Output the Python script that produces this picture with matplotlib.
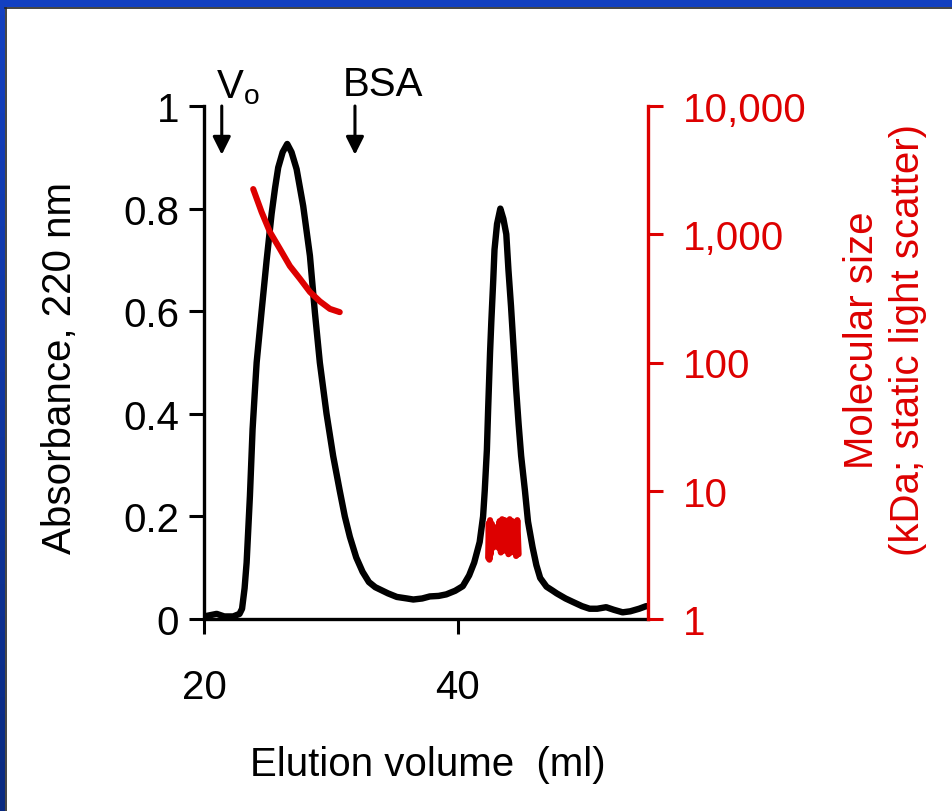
import matplotlib
matplotlib.use("Agg")
import matplotlib.pyplot as plt
import numpy as np

plt.rcParams['font.family'] = ['Liberation Sans', 'DejaVu Sans']
plt.rcParams['mathtext.default'] = 'regular'

# absorbance trace (elution volume ml, A220)
elution = [20.0, 21.0, 21.6, 22.3, 22.8, 23.0, 23.2, 23.36, 23.5, 23.62, 23.83, 24.0,
           24.15, 24.54, 24.94, 25.33, 25.6, 25.85, 26.2, 26.56, 26.9, 27.3, 27.82,
           28.35, 28.74, 29.13, 29.66, 30.18, 30.7, 31.1, 31.5, 32.0, 32.5, 33.0, 33.5,
           34.0, 34.5, 35.2, 36.0, 36.5, 37.2, 37.8, 38.5, 39.1, 39.8, 40.4, 40.9, 41.3,
           41.73, 42.0, 42.13, 42.3, 42.4, 42.55, 42.65, 42.8, 42.9, 43.1, 43.36, 43.6,
           43.83, 44.0, 44.2, 44.4, 44.6, 44.8, 45.0, 45.3, 45.54, 45.9, 46.2, 46.5,
           47.0, 47.5, 47.8, 48.5, 49.1, 49.8, 50.4, 51.0, 51.7, 52.3, 53.0, 53.6,
           54.3, 54.85, 55.0]
absorbance = [0.005, 0.01, 0.005, 0.005, 0.01, 0.02, 0.06, 0.11, 0.18, 0.24, 0.37, 0.44,
              0.50, 0.60, 0.70, 0.79, 0.84, 0.88, 0.91, 0.926, 0.91, 0.877, 0.805,
              0.708, 0.598, 0.50, 0.40, 0.318, 0.25, 0.20, 0.16, 0.12, 0.092, 0.072, 0.062,
              0.056, 0.05, 0.043, 0.04, 0.038, 0.04, 0.044, 0.045, 0.048, 0.055, 0.064, 0.085, 0.11,
              0.15, 0.20, 0.25, 0.33, 0.41, 0.52, 0.58, 0.66, 0.72, 0.77, 0.80, 0.78,
              0.75, 0.68, 0.61, 0.53, 0.45, 0.38, 0.318, 0.25, 0.19, 0.14, 0.105, 0.08,
              0.063, 0.055, 0.05, 0.04, 0.033, 0.025, 0.02, 0.02, 0.023, 0.018, 0.013, 0.015,
              0.02, 0.025, 0.025]

# light scatter molecular size (kDa), first peak
mw1_x = [23.88, 24.54, 25.2, 25.98, 26.77, 27.56, 28.35, 29.13, 29.92, 30.7]
mw1_y = [2250, 1490, 1040, 770, 565, 450, 355, 300, 262, 247]

# second peak (noisy)
mw2_x = [42.4, 42.45, 42.5, 42.55, 42.6, 42.7, 42.8, 42.9, 43.0, 43.1, 43.2, 43.3, 43.4,
         43.5, 43.6, 43.7, 43.8, 43.9, 44.0, 44.1, 44.2, 44.3, 44.4, 44.5, 44.6, 44.7, 44.8]
mw2_y = [3.0, 5.6, 2.9, 5.9, 3.2, 5.5, 3.6, 5.2, 3.8, 5.0, 3.6, 5.8, 3.3, 6.0, 3.4, 5.9,
         3.5, 5.7, 3.2, 6.0, 3.3, 5.8, 3.6, 5.6, 3.1, 5.9, 3.2]

markers = ['V$_{o}$', 'BSA']
marker_x = [21.4, 31.9]

left_ticks = [0, 0.2, 0.4, 0.6, 0.8, 1]
left_labels = ['0', '0.2', '0.4', '0.6', '0.8', '1']
right_ticks = [1, 10, 100, 1000, 10000]
right_labels = ['1', '10', '100', '1,000', '10,000']

red = '#dd0000'
fs = 29

fig = plt.figure(figsize=(9.53, 8.12), dpi=100)

# slide frame (blue top and left edge)
top = fig.add_axes([0, 1 - 8 / 812, 1, 8 / 812])
top.imshow(np.linspace(0, 1, 50).reshape(1, -1), cmap=matplotlib.colors.LinearSegmentedColormap.from_list('b', ['#1240c2', '#1340c0']), aspect='auto')
top.axis('off')
left = fig.add_axes([0, 0, 5 / 953, 1])
left.imshow(np.linspace(0, 1, 50).reshape(-1, 1), cmap=matplotlib.colors.LinearSegmentedColormap.from_list('l', ['#1340c0', '#0a2a80']), aspect='auto')
left.axis('off')
fig.add_artist(plt.Line2D([5 / 953, 1], [1 - 9 / 812, 1 - 9 / 812], color='#222', lw=1.2, transform=fig.transFigure))
fig.add_artist(plt.Line2D([6 / 953, 6 / 953], [0, 1 - 9 / 812], color='#222', lw=1.2, transform=fig.transFigure))

ax = fig.add_axes([204 / 953, 1 - 620 / 812, (648 - 204) / 953, (620 - 107) / 812])
ax.plot(elution, absorbance, color='black', lw=4.6, solid_joinstyle='round')
ax.set_xlim(20, 55)
ax.set_ylim(0, 1)
ax.set_xticks([20, 40])
ax.set_xticklabels(['20', '40'], fontsize=fs)
ax.set_yticks(left_ticks)
ax.set_yticklabels(left_labels, fontsize=fs)
ax.tick_params(axis='y', direction='out', length=11, width=2.2, pad=7)
ax.tick_params(axis='x', direction='out', length=11, width=2.2, pad=24)
for s in ['top', 'right']:
    ax.spines[s].set_visible(False)
ax.spines['left'].set_linewidth(2.4)
ax.spines['bottom'].set_linewidth(2.4)

ax2 = ax.twinx()
ax2.set_yscale('log')
ax2.plot(mw1_x, mw1_y, color=red, lw=4.4, solid_capstyle='round')
ax2.plot(mw2_x, mw2_y, color=red, lw=4.4, solid_capstyle='round')
ax2.set_ylim(1, 10000)
ax2.set_yticks(right_ticks)
ax2.set_yticklabels(right_labels, fontsize=fs, color=red)
ax2.minorticks_off()
ax2.tick_params(axis='y', direction='out', length=11, width=2.2, color=red, pad=14)
for s in ['top', 'left', 'bottom']:
    ax2.spines[s].set_visible(False)
ax2.spines['right'].set_color(red)
ax2.spines['right'].set_linewidth(2.4)

for lab, mx in zip(markers, marker_x):
    ax.annotate('', xy=(mx, 0.905), xytext=(mx, 1.0), annotation_clip=False,
                arrowprops=dict(arrowstyle='-|>', color='black', lw=2.2, mutation_scale=27,
                                shrinkA=0, shrinkB=0))
ax.text(marker_x[0] - 0.45, 1.0, markers[0], fontsize=fs, ha='left', va='bottom')
ax.text(marker_x[1] + 2.2, 1.005, markers[1], fontsize=fs, ha='center', va='bottom')

fig.text(428 / 953, 1 - 765 / 812, 'Elution volume  (ml)', fontsize=fs, ha='center', va='center')
fig.text(60 / 953, 1 - 368 / 812, 'Absorbance, 220 nm', fontsize=fs, rotation=90,
         ha='center', va='center')
fig.text(885 / 953, 1 - 340 / 812, 'Molecular size\n(kDa; static light scatter)', fontsize=fs,
         rotation=90, ha='center', va='center', color=red, linespacing=1.25)

fig.savefig('out.png', dpi=100)
